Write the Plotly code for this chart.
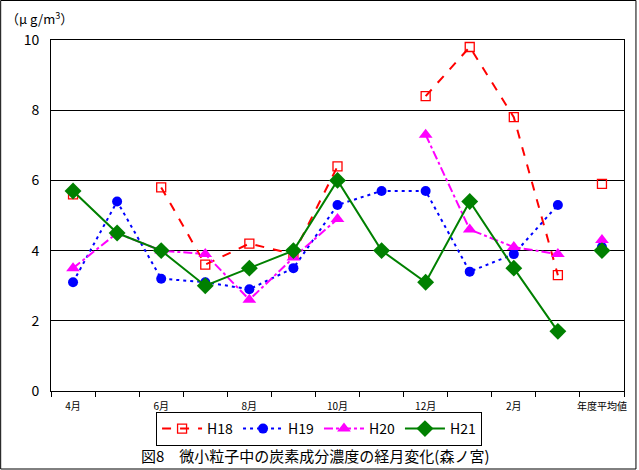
import plotly.graph_objects as go

months = ["4月", "5月", "6月", "7月", "8月", "9月", "10月", "11月", "12月", "1月", "2月", "3月"]
avg_label = "年度平均値"
tick_positions = [0, 2, 4, 6, 8, 10, 12]
tick_labels = ["4月", "6月", "8月", "10月", "12月", "2月", "年度平均値"]

h18 = [5.6, None, 5.8, 3.6, 4.2, 3.9, 6.4, None, 8.4, 9.8, 7.8, 3.3]
h19 = [3.1, 5.4, 3.2, 3.1, 2.9, 3.5, 5.3, 5.7, 5.7, 3.4, 3.9, 5.3]
h20 = [3.5, 4.5, 4.0, 3.9, 2.6, 3.8, 4.9, None, 7.3, 4.6, 4.1, 3.9]
h21 = [5.7, 4.5, 4.0, 3.0, 3.5, 4.0, 6.0, 4.0, 3.1, 5.4, 3.5, 1.7]
averages = {"H18": 5.9, "H19": 4.1, "H20": 4.3, "H21": 4.0}

series = [
    ("H18", h18, "#ff0000", "dash", dict(symbol="square-open", size=9, line=dict(color="#ff0000", width=1.3))),
    ("H19", h19, "#0000ff", "3px,4px", dict(symbol="circle", size=10)),
    ("H20", h20, "#ff00ff", "dashdot", dict(symbol="triangle-up", size=12)),
    ("H21", h21, "#008000", "solid", dict(symbol="diamond", size=13)),
]

xs = list(range(len(months)))
avg_x = len(months)

fig = go.Figure()
for name, vals, color, dash, mk in series:
    fig.add_trace(go.Scatter(
        x=xs, y=vals, name=name, mode="lines+markers",
        line=dict(color=color, width=2, dash=dash),
        marker=dict(color=color, **mk), connectgaps=False,
    ))
for name, vals, color, dash, mk in series:
    fig.add_trace(go.Scatter(
        x=[avg_x], y=[averages[name]], mode="markers", showlegend=False,
        marker=dict(color=color, **mk),
    ))

W, H = 639, 470
L, R, T, B = 51, 13, 40, 79
pw = W - L - R
ph = H - T - B

fig.update_layout(
    width=W, height=H,
    margin=dict(l=L, r=R, t=T, b=B),
    paper_bgcolor="white", plot_bgcolor="white",
    font=dict(family="Noto Sans CJK JP", color="black"),
    showlegend=True,
    legend=dict(
        orientation="h", x=(320 - L) / pw, xanchor="center",
        y=(T + ph - 429) / ph, yanchor="middle",
        bordercolor="black", borderwidth=1, bgcolor="white",
        font=dict(size=14), itemwidth=40, tracegroupgap=0,
    ),
    xaxis=dict(
        range=[-0.5, 12.5], tickvals=tick_positions, ticktext=tick_labels,
        ticks="", showgrid=False, zeroline=False,
        showline=True, linecolor="black", linewidth=1, mirror=True,
        tickfont=dict(size=10), ticklabelstandoff=6,
        minor=dict(tick0=0.5, dtick=1, ticks="outside", ticklen=5, tickcolor="black", showgrid=False),
    ),
    yaxis=dict(
        range=[0, 10], dtick=2, tickformat="d",
        showgrid=True, gridcolor="black", gridwidth=1,
        zeroline=False, showline=True, linecolor="black", linewidth=1, mirror=True,
        ticks="", tickfont=dict(size=14), ticklabelstandoff=8,
    ),
)

fig.add_annotation(
    text="（μ g/m<sup>3</sup>）", xref="paper", yref="paper",
    x=(4 - L) / pw, y=(T + ph - 18) / ph, xanchor="left", yanchor="middle",
    showarrow=False, font=dict(size=13),
)
fig.add_annotation(
    text="図8　微小粒子中の炭素成分濃度の経月変化(森ノ宮)", xref="paper", yref="paper",
    x=(316 - L) / pw, y=(T + ph - 455) / ph, xanchor="center", yanchor="middle",
    showarrow=False, font=dict(size=15),
)
fig.add_shape(
    type="rect", xref="paper", yref="paper",
    x0=(0.5 - L) / pw, x1=(638 - L) / pw,
    y0=(T + ph - 469) / ph, y1=(T + ph - 0.5) / ph,
    line=dict(color="black", width=1), layer="below",
)

fig.write_html("out.html", config={"displayModeBar": False},
               post_script="document.body.style.margin='0';")
